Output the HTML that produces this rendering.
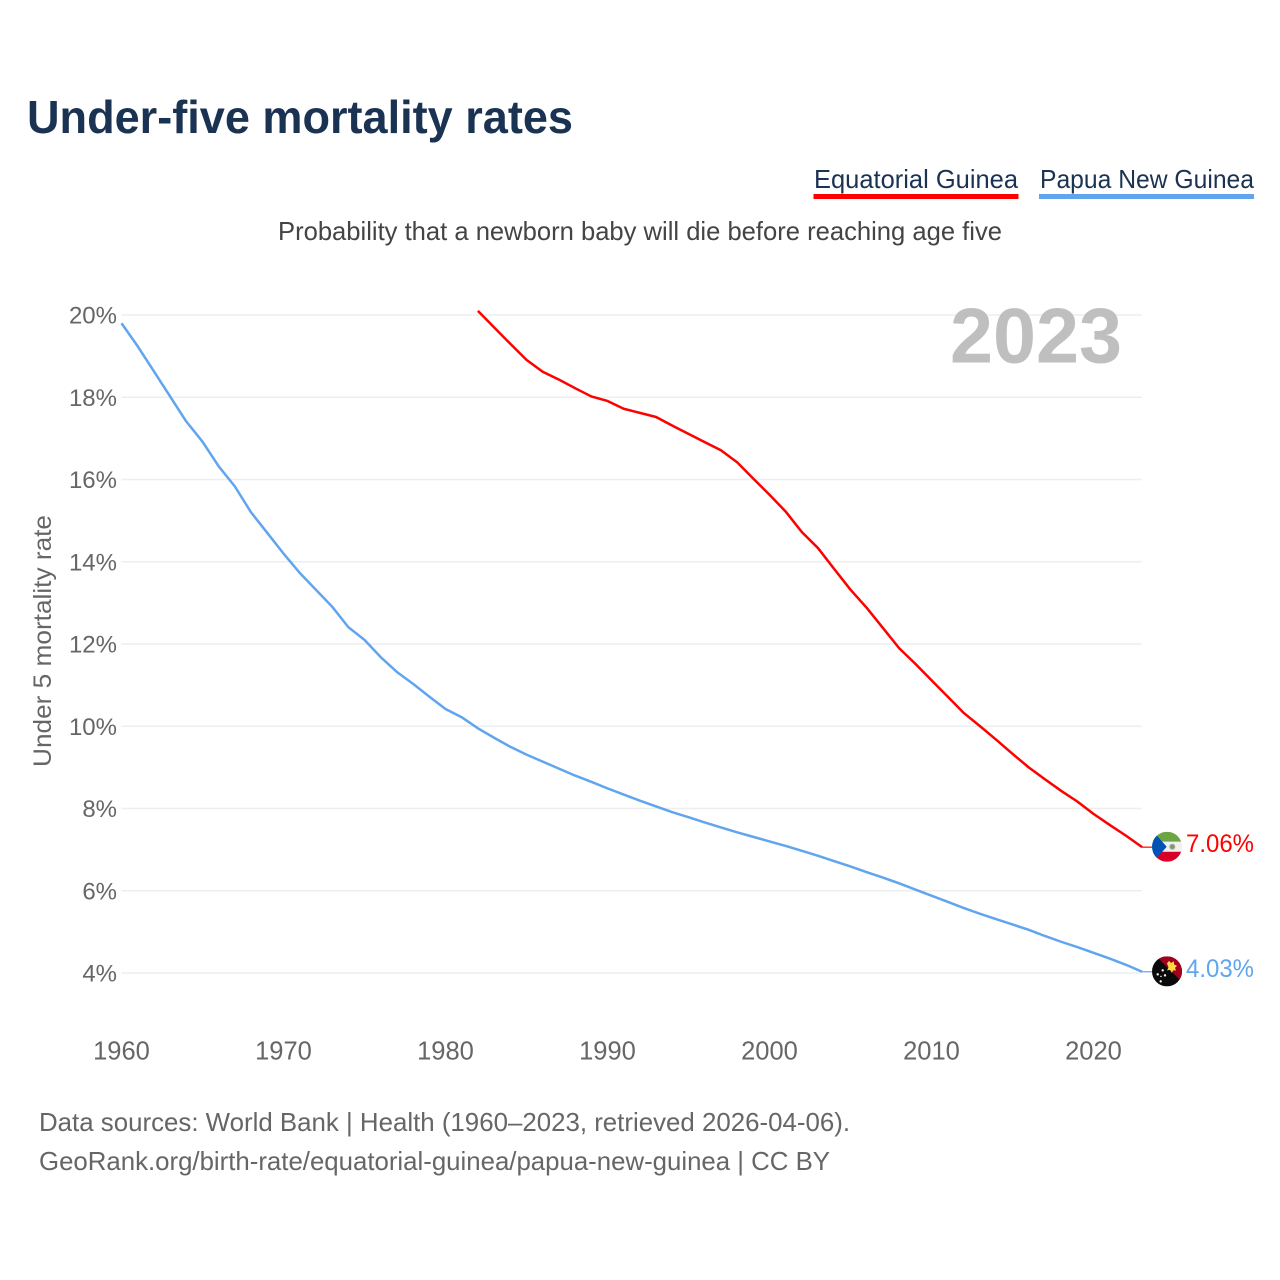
<!DOCTYPE html>
<html lang="en">
<head>
<meta charset="utf-8">
<title>Under-five mortality rates</title>
<style>
html,body{margin:0;padding:0;background:#fff;width:1280px;height:1280px;overflow:hidden}
svg{display:block}
text{font-family:"Liberation Sans",sans-serif}
</style>
</head>
<body>
<svg id="chart" width="1280" height="1280" viewBox="0 0 1280 1280" xmlns="http://www.w3.org/2000/svg">
  <defs>
    <clipPath id="flag-clip"><circle cx="0" cy="0" r="15"/></clipPath>
  </defs>
  <rect width="1280" height="1280" fill="#fff"/>
  <text x="27" y="133" font-size="46" font-weight="700" fill="#1a3353" textLength="546" lengthAdjust="spacingAndGlyphs">Under-five mortality rates</text>
  <g style="cursor:pointer">
    <text x="814" y="188" font-size="26" fill="#1a3353" textLength="204" lengthAdjust="spacingAndGlyphs">Equatorial Guinea</text>
    <rect x="813.5" y="194" width="205" height="5" fill="#ff0000"/>
  </g>
  <g style="cursor:pointer">
    <text x="1040" y="188" font-size="26" fill="#1a3353" textLength="214" lengthAdjust="spacingAndGlyphs">Papua New Guinea</text>
    <rect x="1039" y="194" width="215" height="5" fill="#60a5ee"/>
  </g>
  <text x="278" y="240" font-size="26" fill="#444" textLength="724" lengthAdjust="spacingAndGlyphs">Probability that a newborn baby will die before reaching age five</text>
  <g id="grid"></g>
  <g id="yticks"></g>
  <g id="xticks"></g>
  <text x="950" y="362.5" font-size="78" font-weight="700" fill="#bfbfbf" textLength="172" lengthAdjust="spacingAndGlyphs">2023</text>
  <text transform="translate(51,641) rotate(-90)" text-anchor="middle" font-size="25" fill="#666" textLength="252" lengthAdjust="spacingAndGlyphs">Under 5 mortality rate</text>
  <g id="series"></g>
  <g id="flag-eq">
    <g clip-path="url(#flag-clip)">
      <rect x="-15" y="-15" width="30" height="10" fill="#6da544"/>
      <rect x="-15" y="-5" width="30" height="10" fill="#f0f0f0"/>
      <rect x="-15" y="5" width="30" height="10" fill="#d80027"/>
      <polygon points="-15,-15 -13.5,-15 -0.3,0 -13.5,15 -15,15" fill="#0052b4"/>
      <circle cx="5.3" cy="0" r="3" fill="#a2a2a2"/>
      <circle cx="5.3" cy="0" r="1.8" fill="#6da544"/>
    </g>
  </g>
  <g id="flag-pg">
    <g clip-path="url(#flag-clip)">
      <rect x="-15" y="-15" width="30" height="30" fill="#0a0a0a"/>
      <polygon points="-10.6,-15 15,-15 15,10.6" fill="#a2001d"/>
      <path d="M0,-8 L2,-10.5 L4,-8.5 L7,-10 L7,-7 L10,-5.5 L8,-3.5 L9,-1 L6,-1 L5,1.5 L3,-1.5 L0,-1 L1.5,-4 Z" fill="#ffda44"/>
      <circle cx="-9.3" cy="3" r="1.2" fill="#f0f0f0"/>
      <circle cx="-4.3" cy="-1" r="1.2" fill="#f0f0f0"/>
      <circle cx="-2" cy="4" r="1.2" fill="#f0f0f0"/>
      <circle cx="-6" cy="5" r="0.8" fill="#f0f0f0"/>
      <circle cx="-6.3" cy="10" r="1.2" fill="#f0f0f0"/>
    </g>
  </g>
  <g id="end-labels"></g>
  <text x="39" y="1131" font-size="26" fill="#666" textLength="811" lengthAdjust="spacingAndGlyphs">Data sources: World Bank | Health (1960–2023, retrieved 2026-04-06).</text>
  <text x="39" y="1170" font-size="26" fill="#666" textLength="791" lengthAdjust="spacingAndGlyphs">GeoRank.org/birth-rate/equatorial-guinea/papua-new-guinea | CC BY</text>
</svg>
<script>
const yTickValues = [20, 18, 16, 14, 12, 10, 8, 6, 4];
const xTickValues = [1960, 1970, 1980, 1990, 2000, 2010, 2020];
const eqStartYear = 1982;
const eqValues = [20.1,19.7,19.3,18.91,18.62,18.43,18.22,18.02,17.91,17.72,17.62,17.52,17.31,17.11,16.91,16.71,16.42,16.02,15.63,15.22,14.72,14.33,13.82,13.32,12.88,12.39,11.9,11.52,11.12,10.72,10.32,10.0,9.67,9.33,9.0,8.71,8.43,8.17,7.87,7.6,7.34,7.06];
const pgStartYear = 1960;
const pgValues = [19.8,19.24,18.63,18.02,17.41,16.92,16.32,15.83,15.2,14.7,14.2,13.73,13.32,12.91,12.41,12.1,11.68,11.32,11.03,10.72,10.42,10.22,9.95,9.72,9.5,9.31,9.14,8.97,8.8,8.65,8.49,8.34,8.19,8.05,7.91,7.79,7.66,7.54,7.42,7.31,7.2,7.09,6.97,6.85,6.72,6.59,6.45,6.32,6.18,6.03,5.88,5.73,5.58,5.44,5.31,5.18,5.05,4.9,4.76,4.63,4.49,4.35,4.2,4.03];

const NS = 'http://www.w3.org/2000/svg';
const xScale = year => 121.5 + (year - 1960) * 16.2;
const yScale = value => 315 + (20 - value) * 41.125;

function svgEl(tag, attrs, parent) {
  const el = document.createElementNS(NS, tag);
  for (const k in attrs) el.setAttribute(k, attrs[k]);
  parent.appendChild(el);
  return el;
}

const gridGroup = document.getElementById('grid');
const yTickGroup = document.getElementById('yticks');
yTickValues.forEach(v => {
  const line = svgEl('line', {x1: 121.5, x2: 1141.7, y1: yScale(v), y2: yScale(v), stroke: '#eeeeee', 'stroke-width': 1.5}, gridGroup);
  
  
  const label = svgEl('text', {x: 117, y: yScale(v) + 8.5, 'text-anchor': 'end', 'font-size': 24, fill: '#666'}, yTickGroup);
  
  
  label.textContent = v + '%';
});

const xTickGroup = document.getElementById('xticks');
xTickValues.forEach(y => {
  const label = svgEl('text', {x: xScale(y), y: 1059.5, 'text-anchor': 'middle', 'font-size': 25.5, fill: '#666'}, xTickGroup);
  
  
  label.textContent = y;
});

const seriesGroup = document.getElementById('series');
const labelGroup = document.getElementById('end-labels');

function drawSeries(values, startYear, color, lineName, connectorName, labelName, flagId) {
  const pts = values.map((v, i) => xScale(startYear + i).toFixed(2) + ',' + yScale(v).toFixed(2));
  const line = svgEl('polyline', {points: pts.join(' '), fill: 'none', stroke: color, 'stroke-width': 2.5, 'stroke-linejoin': 'round'}, seriesGroup);
  
  
  const last = values[values.length - 1];
  const lastX = xScale(startYear + values.length - 1);
  const lastY = yScale(last);
  const conn = svgEl('line', {x1: lastX, x2: lastX + 10, y1: lastY, y2: lastY, stroke: color, 'stroke-width': 1.2}, seriesGroup);
  
  
  document.getElementById(flagId).setAttribute('transform', 'translate(1167,' + (lastY - 0.4).toFixed(2) + ')');
  const label = svgEl('text', {x: 1186, y: lastY + 5, 'font-size': 25, fill: color, textLength: 68, lengthAdjust: 'spacingAndGlyphs'}, labelGroup);
  
  
  label.textContent = last.toFixed(2) + '%';
}

drawSeries(eqValues, eqStartYear, '#ff0000', 'line-equatorial-guinea', 'connector-equatorial-guinea', 'end-label-equatorial-guinea', 'flag-eq');
drawSeries(pgValues, pgStartYear, '#60a5ee', 'line-papua-new-guinea', 'connector-papua-new-guinea', 'end-label-papua-new-guinea', 'flag-pg');
</script>
</body>
</html>
